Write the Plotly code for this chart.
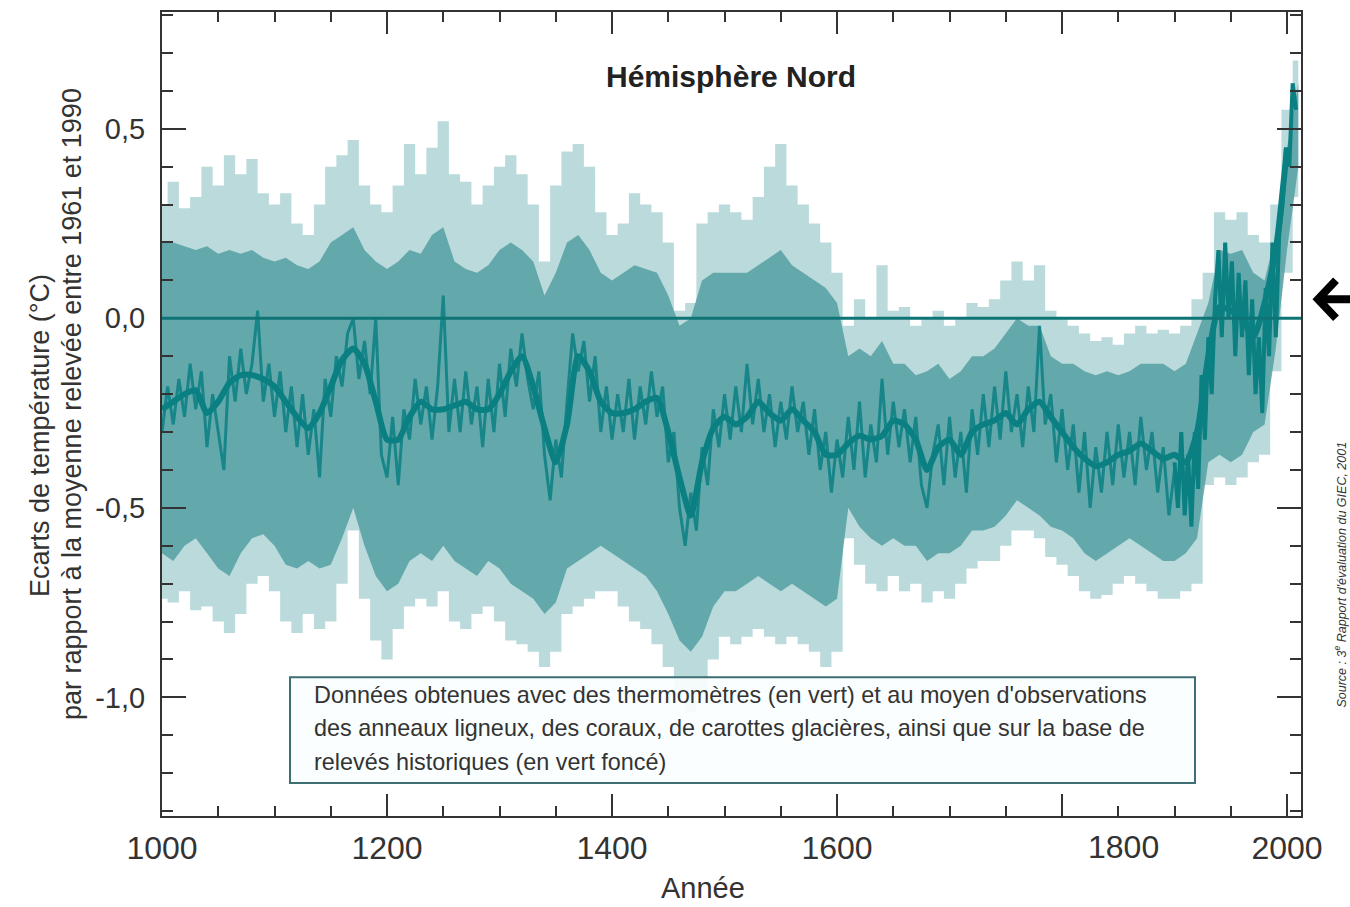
import plotly.graph_objects as go

# ---------------- data ----------------
band_years = list(range(1000, 2011, 10))

band_hi_tip = [0.30, 0.36, 0.29, 0.32, 0.40, 0.35, 0.43, 0.38, 0.42, 0.33,
               0.30, 0.33, 0.25, 0.22, 0.30, 0.40, 0.43, 0.47, 0.35, 0.30,
               0.28, 0.35, 0.46, 0.38, 0.45, 0.52, 0.38, 0.36, 0.30, 0.35,
               0.40, 0.43, 0.38, 0.30, 0.15, 0.35, 0.44, 0.46, 0.40, 0.28,
               0.22, 0.25, 0.33, 0.30, 0.28, 0.20, 0.02, 0.04, 0.25, 0.28,
               0.30, 0.28, 0.26, 0.32, 0.40, 0.46, 0.35, 0.30, 0.25, 0.20,
               0.12, -0.02, 0.05, 0.00, 0.14, 0.02, 0.03, -0.02, 0.00, 0.02,
               -0.02, 0.00, 0.04, 0.03, 0.05, 0.10, 0.15, 0.10, 0.14, 0.02,
               0.00, -0.02, -0.04, -0.06, -0.05, -0.07, -0.04, -0.02, -0.04, -0.03,
               -0.04, -0.02, 0.05, 0.12, 0.28, 0.26, 0.28, 0.22, 0.20, 0.30,
               0.55, 0.68]

band_hi_core = [0.20, 0.20, 0.19, 0.18, 0.19, 0.17, 0.18, 0.17, 0.18, 0.16,
                0.15, 0.16, 0.14, 0.13, 0.15, 0.20, 0.22, 0.24, 0.18, 0.15,
                0.13, 0.15, 0.18, 0.17, 0.22, 0.24, 0.15, 0.13, 0.12, 0.14,
                0.18, 0.20, 0.18, 0.15, 0.06, 0.12, 0.20, 0.22, 0.18, 0.12,
                0.10, 0.12, 0.14, 0.13, 0.12, 0.06, -0.02, 0.00, 0.10, 0.12,
                0.12, 0.12, 0.12, 0.14, 0.16, 0.18, 0.14, 0.12, 0.10, 0.08,
                0.04, -0.10, -0.08, -0.10, -0.06, -0.12, -0.12, -0.15, -0.14, -0.12,
                -0.16, -0.14, -0.10, -0.10, -0.08, -0.04, 0.00, -0.02, -0.02, -0.10,
                -0.12, -0.12, -0.14, -0.15, -0.14, -0.15, -0.14, -0.12, -0.12, -0.12,
                -0.14, -0.12, -0.04, 0.04, 0.18, 0.17, 0.18, 0.12, 0.10, 0.22,
                0.45, 0.62]

band_lo_core = [-0.62, -0.64, -0.60, -0.58, -0.62, -0.66, -0.68, -0.62, -0.58, -0.57,
                -0.60, -0.65, -0.66, -0.64, -0.66, -0.65, -0.58, -0.50, -0.60, -0.68,
                -0.72, -0.70, -0.64, -0.62, -0.64, -0.60, -0.64, -0.66, -0.68, -0.64,
                -0.66, -0.70, -0.72, -0.74, -0.78, -0.75, -0.66, -0.64, -0.62, -0.60,
                -0.62, -0.64, -0.66, -0.68, -0.72, -0.78, -0.85, -0.88, -0.84, -0.76,
                -0.72, -0.72, -0.70, -0.68, -0.70, -0.72, -0.70, -0.72, -0.74, -0.76,
                -0.74, -0.50, -0.55, -0.58, -0.60, -0.58, -0.60, -0.60, -0.64, -0.62,
                -0.62, -0.60, -0.56, -0.56, -0.55, -0.52, -0.48, -0.50, -0.52, -0.55,
                -0.56, -0.58, -0.62, -0.64, -0.62, -0.60, -0.58, -0.60, -0.62, -0.64,
                -0.64, -0.62, -0.58, -0.38, -0.36, -0.38, -0.36, -0.30, -0.28, -0.08,
                0.18, 0.40]

band_lo_tip = [-0.74, -0.75, -0.72, -0.77, -0.76, -0.80, -0.83, -0.78, -0.70, -0.68,
               -0.72, -0.80, -0.83, -0.78, -0.82, -0.80, -0.70, -0.56, -0.74, -0.85,
               -0.90, -0.82, -0.76, -0.74, -0.76, -0.72, -0.80, -0.82, -0.78, -0.76,
               -0.80, -0.85, -0.86, -0.88, -0.92, -0.88, -0.78, -0.76, -0.74, -0.72,
               -0.72, -0.76, -0.80, -0.82, -0.86, -0.92, -0.98, -1.04, -0.98, -0.90,
               -0.84, -0.86, -0.84, -0.82, -0.84, -0.86, -0.84, -0.86, -0.88, -0.92,
               -0.88, -0.58, -0.65, -0.70, -0.72, -0.68, -0.72, -0.70, -0.75, -0.72,
               -0.74, -0.70, -0.66, -0.64, -0.64, -0.60, -0.56, -0.56, -0.58, -0.63,
               -0.65, -0.68, -0.72, -0.74, -0.73, -0.70, -0.68, -0.70, -0.72, -0.74,
               -0.74, -0.72, -0.70, -0.44, -0.42, -0.44, -0.42, -0.38, -0.36, -0.14,
               0.12, 0.32]

proxy_years = list(range(1000, 1901, 5))
proxy_values = [-0.30, -0.18, -0.28, -0.16, -0.26, -0.12, -0.24, -0.14, -0.34, -0.20,
                -0.30, -0.40, -0.10, -0.22, -0.08, -0.20, -0.12, 0.02, -0.22, -0.12,
                -0.26, -0.14, -0.30, -0.18, -0.34, -0.20, -0.36, -0.24, -0.42, -0.16,
                -0.26, -0.10, -0.18, -0.04, 0.00, -0.16, -0.06, -0.20, 0.00, -0.36,
                -0.42, -0.26, -0.44, -0.24, -0.32, -0.16, -0.28, -0.18, -0.32, -0.18,
                0.06, -0.30, -0.16, -0.30, -0.14, -0.28, -0.18, -0.34, -0.16, -0.30,
                -0.12, -0.26, -0.08, -0.18, -0.04, -0.16, -0.24, -0.14, -0.36, -0.48,
                -0.32, -0.42, -0.22, -0.04, -0.14, -0.06, -0.22, -0.10, -0.30, -0.18,
                -0.32, -0.20, -0.30, -0.16, -0.32, -0.18, -0.28, -0.14, -0.26, -0.18,
                -0.38, -0.30, -0.50, -0.60, -0.46, -0.56, -0.34, -0.44, -0.24, -0.34,
                -0.20, -0.32, -0.18, -0.30, -0.12, -0.28, -0.16, -0.30, -0.20, -0.34,
                -0.22, -0.32, -0.18, -0.30, -0.22, -0.36, -0.24, -0.40, -0.30, -0.46,
                -0.32, -0.42, -0.26, -0.40, -0.22, -0.42, -0.28, -0.38, -0.16, -0.36,
                -0.22, -0.34, -0.24, -0.38, -0.26, -0.44, -0.50, -0.36, -0.28, -0.44,
                -0.26, -0.42, -0.30, -0.46, -0.24, -0.36, -0.20, -0.34, -0.18, -0.32,
                -0.14, -0.30, -0.20, -0.34, -0.18, -0.30, -0.02, -0.28, -0.20, -0.38,
                -0.24, -0.40, -0.28, -0.46, -0.30, -0.50, -0.34, -0.46, -0.30, -0.44,
                -0.28, -0.42, -0.30, -0.44, -0.26, -0.40, -0.30, -0.46, -0.34, -0.52,
                -0.40]

smooth_years = list(range(1000, 2001, 10))
smooth_values = [-0.24, -0.22, -0.20, -0.19, -0.25, -0.22, -0.17, -0.15, -0.15, -0.16,
                 -0.18, -0.22, -0.26, -0.29, -0.25, -0.18, -0.11, -0.08, -0.12, -0.22,
                 -0.32, -0.32, -0.26, -0.22, -0.24, -0.24, -0.23, -0.22, -0.24, -0.24,
                 -0.20, -0.14, -0.10, -0.18, -0.29, -0.38, -0.28, -0.10, -0.14, -0.22,
                 -0.25, -0.25, -0.24, -0.22, -0.21, -0.30, -0.42, -0.52, -0.38, -0.29,
                 -0.26, -0.28, -0.26, -0.22, -0.25, -0.27, -0.24, -0.27, -0.30, -0.36,
                 -0.36, -0.33, -0.31, -0.32, -0.31, -0.27, -0.28, -0.32, -0.40, -0.34,
                 -0.32, -0.36, -0.30, -0.28, -0.27, -0.25, -0.28, -0.24, -0.22, -0.26,
                 -0.30, -0.34, -0.37, -0.39, -0.38, -0.36, -0.35, -0.33, -0.35, -0.37,
                 -0.36, -0.38, -0.30, -0.10, 0.03, 0.02, 0.00, -0.05, 0.04, 0.18,
                 0.45]

thermo_years = list(range(1900, 2009, 3))
thermo_values = [-0.38, -0.50, -0.30, -0.52, -0.36, -0.55, -0.30, -0.45, -0.15, -0.32,
                 -0.05, -0.20, 0.05, 0.18, -0.05, 0.20, 0.00, 0.15, -0.10, 0.12,
                 -0.05, 0.10, -0.15, 0.05, -0.20, -0.05, -0.25, 0.08, -0.10, 0.20,
                 -0.05, 0.22, 0.30, 0.45, 0.40, 0.62, 0.55]

x_ticks = [1000, 1200, 1400, 1600, 1800, 2000]
x_labels = ["1000", "1200", "1400", "1600", "1800", "2000"]
y_ticks = [-1.0, -0.5, 0.0, 0.5]
y_labels = ["-1,0", "-0,5", "0,0", "0,5"]

box_lines = ["Données obtenues avec des thermomètres (en vert) et au moyen d'observations",
             "des anneaux ligneux, des coraux, de carottes glacières, ainsi que sur la base de",
             "relevés historiques (en vert foncé)"]

# ---------------- styling ----------------
FONT = "Liberation Sans, Arial, sans-serif"
TIP = "rgba(92,166,169,0.42)"
CORE = "rgba(86,162,165,0.88)"
DARK = "#0a8082"
AX = "#333333"
TXT = "#333333"

W, H = 1350, 907
L, R, T, B = 162, 49, 10, 91
PW, PH = W - L - R, H - T - B


def px(xp):
    return (xp - L) / PW


def py(yp):
    return (H - B - yp) / PH


fig = go.Figure()

# outer (fuzzy) uncertainty band
fig.add_trace(go.Scatter(x=band_years, y=band_hi_tip, mode="lines",
                         line=dict(width=0, color=TIP, shape="hvh"),
                         hoverinfo="skip", showlegend=False))
fig.add_trace(go.Scatter(x=band_years, y=band_lo_tip, mode="lines", fill="tonexty",
                         fillcolor=TIP, line=dict(width=0, color=TIP, shape="hvh"),
                         hoverinfo="skip", showlegend=False))
# core band
fig.add_trace(go.Scatter(x=band_years, y=band_hi_core, mode="lines",
                         line=dict(width=0, color=CORE), hoverinfo="skip", showlegend=False))
fig.add_trace(go.Scatter(x=band_years, y=band_lo_core, mode="lines", fill="tonexty",
                         fillcolor=CORE, line=dict(width=0, color=CORE),
                         hoverinfo="skip", showlegend=False))

# annual proxy reconstruction
fig.add_trace(go.Scatter(x=proxy_years, y=proxy_values, mode="lines",
                         line=dict(width=3, color="rgba(10,128,130,0.85)"),
                         hoverinfo="skip", showlegend=False))
# thermometer record
fig.add_trace(go.Scatter(x=thermo_years, y=thermo_values, mode="lines",
                         line=dict(width=4, color=DARK), hoverinfo="skip", showlegend=False))
# smoothed curve
fig.add_trace(go.Scatter(x=smooth_years, y=smooth_values, mode="lines",
                         line=dict(width=6, color=DARK, shape="spline", smoothing=0.6),
                         hoverinfo="skip", showlegend=False))

# zero reference line
fig.add_shape(type="line", xref="paper", x0=0, x1=1, yref="y", y0=0, y1=0,
              line=dict(color="#0f7476", width=3), layer="above")

# text box frame
fig.add_shape(type="rect", xref="paper", yref="paper",
              x0=px(290), x1=px(1195), y0=py(783), y1=py(677),
              line=dict(color="#3f6f72", width=2), fillcolor="rgba(250,254,254,0.92)",
              layer="above")

# arrow on the right
ax1, ay1 = px(1336), py(279)
ax2, ay2 = px(1318), py(298)
ax3, ay3 = px(1336), py(317)
ax4 = px(1352)
fig.add_shape(type="path", xref="paper", yref="paper",
              path=f"M {ax1},{ay1} L {ax2},{ay2} L {ax3},{ay3} M {ax2},{ay2} L {ax4},{ay2}",
              line=dict(color="black", width=8))

common = dict(xref="paper", yref="paper", showarrow=False, xanchor="center", yanchor="middle")
annotations = [
    dict(text="<b>Hémisphère Nord</b>", x=px(731), y=py(75),
         font=dict(family=FONT, size=30, color="#222"), **common),
    dict(text="Ecarts de température (°C)", x=px(40), y=py(435), textangle=-90,
         font=dict(family=FONT, size=27, color=TXT), **common),
    dict(text="par rapport à la moyenne relevée entre 1961 et 1990", x=px(72), y=py(403),
         textangle=-90, font=dict(family=FONT, size=27, color=TXT), **common),
    dict(text="Année", x=px(703), y=py(888),
         font=dict(family=FONT, size=29, color=TXT), **common),
    dict(text="<i>Source : 3<sup>e</sup> Rapport d'évaluation du GIEC, 2001</i>",
         x=px(1340), y=py(574), textangle=-90,
         font=dict(family=FONT, size=12.5, color=TXT), **common),
    # misplaced "1800" label, as drawn in the original figure
    dict(text=x_labels[4], x=px(1123), y=py(847),
         font=dict(family=FONT, size=32, color=TXT), **common),
]
for line_text, ly in zip(box_lines, [695, 728, 762]):
    annotations.append(dict(text=line_text, x=px(312), y=py(ly), xref="paper", yref="paper",
                            xanchor="left", yanchor="middle", align="left", showarrow=False,
                            font=dict(family=FONT, size=23.4, color=TXT)))

fig.update_layout(
    width=W, height=H,
    margin=dict(l=L, r=R, t=T, b=B),
    paper_bgcolor="white", plot_bgcolor="white",
    showlegend=False,
    annotations=annotations,
)

tick_text = [lab if v != 1800 else "" for v, lab in zip(x_ticks, x_labels)]
fig.update_xaxes(range=[1000, 2012.4], tickmode="array", tickvals=x_ticks, ticktext=tick_text,
                 ticks="inside", ticklen=22, tickwidth=2, tickcolor=AX,
                 showline=True, linecolor=AX, linewidth=2, mirror="ticks",
                 showgrid=False, zeroline=False, ticklabelstandoff=3,
                 tickfont=dict(family=FONT, size=32, color=TXT),
                 minor=dict(tickmode="linear", tick0=1000, dtick=50, ticks="inside",
                            ticklen=10, tickwidth=2, tickcolor=AX, showgrid=False))
fig.update_yaxes(range=[-1.313, 0.808], tickmode="array", tickvals=y_ticks, ticktext=y_labels,
                 ticks="inside", ticklen=24, tickwidth=2, tickcolor=AX,
                 showline=True, linecolor=AX, linewidth=2, mirror="ticks",
                 showgrid=False, zeroline=False, ticklabelstandoff=9,
                 tickfont=dict(family=FONT, size=29, color=TXT),
                 minor=dict(tickmode="linear", tick0=0, dtick=0.1, ticks="inside",
                            ticklen=11, tickwidth=2, tickcolor=AX, showgrid=False))

fig.write_html("out.html", config={"displayModeBar": False},
               post_script="document.body.style.margin='0';document.body.style.overflow='hidden';")
